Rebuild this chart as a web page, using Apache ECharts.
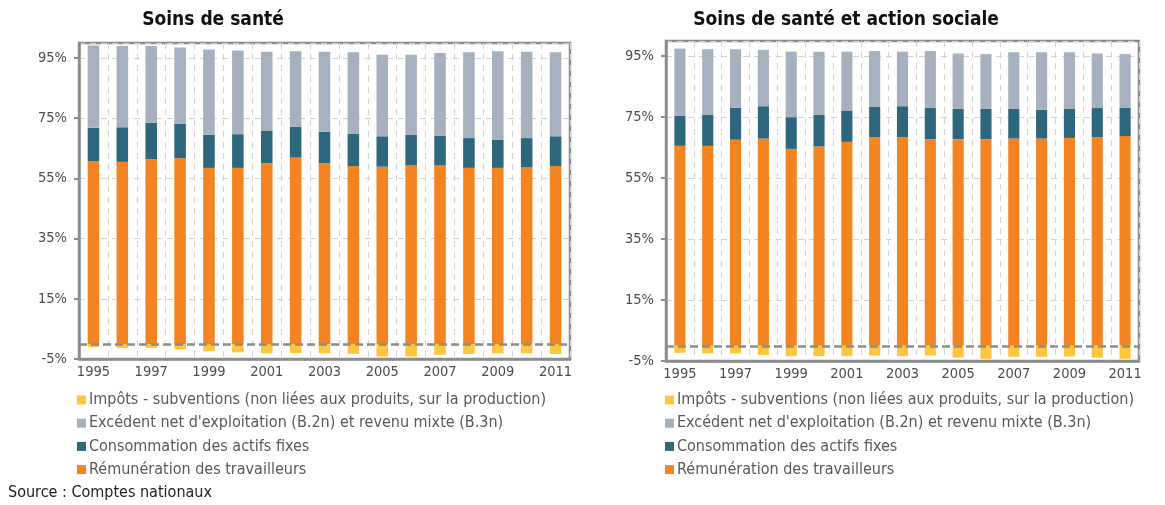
<!DOCTYPE html>
<html>
<head>
<meta charset="utf-8">
<script src="https://cdn.jsdelivr.net/npm/echarts@6/dist/echarts.min.js"></script>
<style>
html,body{margin:0;padding:0;background:#fff;}
#c{width:1165px;height:505px;}
</style>
</head>
<body>
<div id="c"></div>
<script>
var years = ['1995','1996','1997','1998','1999','2000','2001','2002','2003','2004','2005','2006','2007','2008','2009','2010','2011'];
var seriesNames = ['Impôts - subventions (non liées aux produits, sur la production)', "Excédent net d'exploitation (B.2n) et revenu mixte (B.3n)", 'Consommation des actifs fixes', 'Rémunération des travailleurs'];
var titles = ['Soins de santé', 'Soins de santé et action sociale'];
var sourceText = 'Source : Comptes nationaux';

// Soins de santé (%)
var sante_remuneration = [60.8,60.5,61.4,61.7,58.5,58.5,60.0,61.9,60.0,59.1,58.9,59.3,59.3,58.5,58.5,58.8,59.1];
var sante_consommation = [11.0,11.5,12.1,11.5,11.0,11.2,10.8,10.3,10.5,10.8,10.1,10.2,9.9,9.9,9.4,9.6,9.9];
var sante_excedent    = [27.4,27.0,25.5,25.3,28.3,27.8,26.3,25.1,26.6,27.0,27.1,26.6,27.5,28.5,29.4,28.7,27.9];
var sante_impots      = [-1.0,-1.4,-1.3,-1.8,-2.4,-2.8,-3.1,-3.0,-3.1,-3.3,-4.2,-4.2,-3.6,-3.3,-3.1,-3.1,-3.3];

// Soins de santé et action sociale (%)
var social_remuneration = [65.6,65.6,67.6,68.0,64.6,65.4,66.9,68.5,68.5,67.8,67.8,67.8,68.0,68.0,68.2,68.5,68.8];
var social_consommation = [9.8,10.2,10.5,10.6,10.4,10.4,10.3,9.9,10.1,10.2,9.9,9.9,9.7,9.4,9.5,9.5,9.3];
var social_excedent    = [22.1,21.5,19.2,18.5,21.5,20.7,19.3,18.3,17.9,18.7,18.2,18.0,18.6,18.9,18.6,17.9,17.6];
var social_impots      = [-2.3,-2.5,-2.5,-3.0,-3.4,-3.4,-3.4,-3.2,-3.4,-3.2,-3.9,-4.3,-3.6,-3.6,-3.5,-3.9,-4.3];

var yTicksMin = -5, yTicksMax = 100, yTickStep = 20;

var colors = {
  impots: '#FFC63D',
  excedent: '#A6B0BE',
  consommation: '#2D677D',
  remuneration: '#F48322'
};
var FONT = '"DejaVu Sans Condensed", "DejaVu Sans", sans-serif';
var GRAY = '#8C8C8C';

function xAxisFor(gi) {
  return {
    type: 'category', gridIndex: gi, data: years,
    axisLine: {onZero: false, lineStyle: {color: GRAY, width: 2.5}},
    axisTick: {show: false},
    axisLabel: {interval: 1, color: '#4d4d4d', fontFamily: FONT, fontSize: 14.5, margin: 6},
    splitLine: {show: true, interval: 0, lineStyle: {color: '#d4d4d4', type: [6, 5], width: 1}}
  };
}
function yAxisFor(gi) {
  return {
    type: 'value', gridIndex: gi, min: yTicksMin, max: yTicksMax, interval: yTickStep,
    axisLine: {show: true, lineStyle: {color: GRAY, width: 2.5}},
    axisTick: {show: true, length: 5, lineStyle: {color: GRAY, width: 2}},
    axisLabel: {formatter: '{value}%', showMaxLabel: false, color: '#4d4d4d', fontFamily: FONT, fontSize: 14.5, margin: 12},
    splitLine: {show: true, lineStyle: {color: '#d4d4d4', type: [6, 5], width: 1}}
  };
}
function seriesFor(gi, rem, cons, exc, imp) {
  var st = 'stack' + gi;
  var base = {type: 'bar', xAxisIndex: gi, yAxisIndex: gi, stack: st, barWidth: '40%'};
  return [
    Object.assign({}, base, {name: seriesNames[3], data: rem, itemStyle: {color: colors.remuneration}}),
    Object.assign({}, base, {name: seriesNames[2], data: cons, itemStyle: {color: colors.consommation}}),
    Object.assign({}, base, {name: seriesNames[1], data: exc, itemStyle: {color: colors.excedent}}),
    Object.assign({}, base, {name: seriesNames[0], data: imp, itemStyle: {color: colors.impots},
      markLine: {silent: true, symbol: 'none', label: {show: false},
        lineStyle: {color: GRAY, type: [8, 4], width: 2.5},
        data: [{yAxis: 0}]}})
  ];
}
function legendFor(left) {
  return {
    data: seriesNames, orient: 'vertical', left: left, top: 387,
    icon: 'rect', itemWidth: 9, itemHeight: 9, itemGap: 7.2,
    textStyle: {color: '#595959', fontFamily: FONT, fontSize: 16, lineHeight: 16, padding: [0, 0, 0, -2]},
    selectedMode: false
  };
}

var chart = echarts.init(document.getElementById('c'), null, {renderer: 'canvas'});
chart.setOption({
  animation: false,
  backgroundColor: '#fff',
  title: [
    {text: titles[0], left: 208, top: 6, textAlign: 'center', textStyle: {fontFamily: FONT, fontWeight: 'bold', fontSize: 19, color: '#111'}},
    {text: titles[1], left: 841, top: 6, textAlign: 'center', textStyle: {fontFamily: FONT, fontWeight: 'bold', fontSize: 19, color: '#111'}}
  ],
  grid: [
    {left: 79, top: 43, width: 491, height: 316, show: true, borderColor: GRAY, borderWidth: 2.5, backgroundColor: 'transparent'},
    {left: 666, top: 41, width: 473, height: 320, show: true, borderColor: GRAY, borderWidth: 2.5, backgroundColor: 'transparent'}
  ],
  xAxis: [xAxisFor(0), xAxisFor(1)],
  yAxis: [yAxisFor(0), yAxisFor(1)],
  legend: [legendFor(72), legendFor(660)],
  series: seriesFor(0, sante_remuneration, sante_consommation, sante_excedent, sante_impots)
    .concat(seriesFor(1, social_remuneration, social_consommation, social_excedent, social_impots)),
  graphic: [
    {type: 'text', left: 8, top: 485, style: {text: sourceText, fontFamily: FONT, fontSize: 16, fill: '#222'}}
  ]
});
</script>
</body>
</html>
